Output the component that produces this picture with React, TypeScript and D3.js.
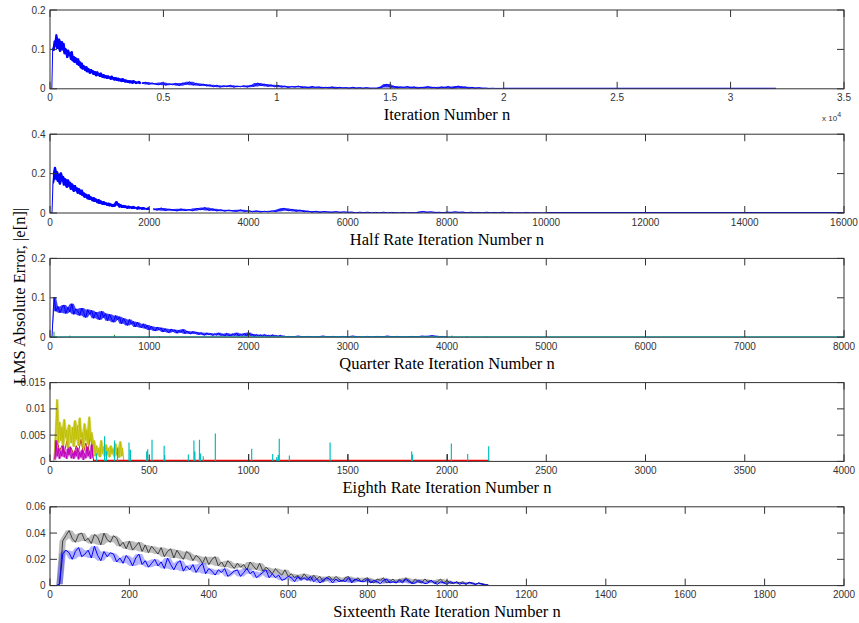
import React from 'react';
import * as d3 from 'd3';

// ---------------- DATA (errors in units of 1e-3) ----------------
// Panel 1: full rate
const fullXTicks = [0, 5000, 10000, 15000, 20000, 25000, 30000, 35000];
const fullYTicks = [0, 0.1, 0.2];
const fullStartA = 0, fullStepA = 40;
const fullErrA = [
  0, 0,
  0, 104, 96, 122, 108, 138, 101, 118, 127, 94,
  112, 121, 98, 116, 88, 103, 96, 78, 99, 84,
  92, 74, 95, 70, 83, 66, 80, 72, 61, 77,
  58, 69, 52, 66, 49, 60, 53, 45, 57, 42,
  53, 46, 38, 50, 40, 47, 35, 45, 37, 32,
  44, 34, 40, 30, 41, 33, 28, 37, 27, 35,
  30, 25, 34, 26, 31, 23, 33, 24, 29, 21,
  30, 23, 20, 28, 19, 26, 22, 17, 27, 18,
  24, 16, 23, 19, 15, 22, 14, 21, 17, 13,
  22, 15, 19, 12, 18, 14, 20, 12, 17,
];
const fullStartB = 4050, fullStepB = 150;
const fullErrB = [
  13, 17, 11, 15, 12, 10, 16, 9, 13, 10,
  14, 8, 15, 11, 18, 9, 14, 8, 12, 7,
  10, 5, 9, 4, 8, 5, 9, 4, 7, 5,
  8, 4, 9, 6, 15, 8, 12, 6, 10, 5,
  9, 4, 7, 3, 6, 4, 7, 3, 5, 2,
  6, 3, 5, 2, 4, 2, 5, 1, 4, 2,
  3, 1, 4, 1, 3, 1, 3, 1, 2, 1,
  3, 6, 12, 3, 7, 2, 5, 3, 6, 2,
  5, 1, 4, 2, 6, 2, 4, 1, 5, 2,
  6, 1, 4, 7, 2, 5, 1, 4, 1, 3,
  1, 2, 1, 1.5, 1, 1, 1,
];
const fullTailN = [19950, 32000];
const fullTailErr = [0.8, 0.8];

// Panel 2: half rate
const halfXTicks = [0, 2000, 4000, 6000, 8000, 10000, 12000, 14000, 16000];
const halfYTicks = [0, 0.2, 0.4];
const halfStartA = 0, halfStepA = 20;
const halfErrA = [
  0, 0,
  0, 150, 205, 234, 170, 212, 158, 198, 145, 205,
  162, 188, 140, 176, 150, 128, 170, 135, 158, 118,
  150, 126, 108, 142, 112, 130, 98, 126, 104, 92,
  118, 86, 104, 78, 98, 84, 70, 94, 66, 84,
  72, 60, 80, 56, 74, 62, 50, 70, 46, 64,
  52, 42, 60, 40, 55, 44, 36, 52, 34, 48,
  38, 30, 46, 32, 52, 60, 38, 50, 28, 44,
  32, 26, 41, 25, 38, 29, 22, 37, 23, 34,
  26, 20, 36, 21, 31, 24, 18, 33, 19, 29,
  22, 16, 30, 18, 26, 20, 15, 28, 17,
];
const halfStartB = 2080, halfStepB = 80;
const halfErrB = [
  22, 14, 26, 12, 20, 16, 10, 21, 12, 18,
  11, 24, 16, 28, 13, 22, 10, 17, 9, 15,
  11, 8, 16, 7, 12, 6, 11, 5, 9, 6,
  11, 7, 18, 24, 11, 19, 8, 15, 6, 10,
  4, 9, 3, 8, 5, 3, 7, 2, 6, 3,
  5, 1, 4, 2, 4, 1, 3, 1, 4, 1,
  3, 2, 1, 3, 1, 2, 1, 4, 8, 3,
  6, 2, 4, 1, 5, 2, 6, 3, 5, 1,
  4, 2, 3, 1, 4, 1, 3, 1, 4, 2,
  3, 1, 2, 1, 3, 1, 2, 1, 1, 1,
];
const halfTailN = [10000, 16000];
const halfTailErr = [0.8, 0.8];

// Panel 3: quarter rate
const quarterXTicks = [0, 1000, 2000, 3000, 4000, 5000, 6000, 7000, 8000];
const quarterYTicks = [0, 0.1, 0.2];
const quarterStartA = 0, quarterStepA = 20;
const quarterErrA = [
  0, 0, 102, 66, 78, 62, 74, 82, 60, 76,
  64, 85, 58, 72, 66, 55, 74, 62, 50, 70,
  58, 68, 48, 64, 54, 44, 66, 50, 60, 42,
  58, 46, 38, 55, 44, 52, 34, 48, 38, 30,
  45, 33, 40, 26, 38, 30, 24, 34, 22, 31,
  18, 28, 20, 16, 26, 18, 24, 13, 22, 15,
  11, 21, 14, 19, 10, 18, 12, 20, 9, 16,
  11, 8, 15, 9, 13, 6, 12, 7, 5, 11,
  6, 10, 4, 9, 5, 11, 4, 8, 3, 10,
  5, 3, 9, 4, 11, 3, 8, 4, 10, 3,
  12, 4, 8, 2, 7, 3, 6, 2, 7, 2,
  5, 1, 6, 2, 4, 1, 5, 1, 3, 1,
  2,
];
const quarterStartB = 2400, quarterStepB = 50;
const quarterErrB = [2, 1, 3, 1, 2, 1, 1, 3, 1, 2, 1, 2, 1, 3, 1, 1, 2, 1, 2, 1, 3, 1, 2, 1, 1, 2, 1, 3, 1, 4, 1, 2, 1];
const quarterGreenN = [40, 200, 650, 1100, 2000, 4050, 4200, 4400];
const quarterGreenErr = [14, 4, 6, 3, 3, 4, 3, 2];
const quarterTealN = [0, 8000];
const quarterTealErr = [0.6, 0.6];

// Panel 4: eighth rate
const eighthXTicks = [0, 500, 1000, 1500, 2000, 2500, 3000, 3500, 4000];
const eighthYTicks = [0, 0.005, 0.01, 0.015];
const eighthYellowStart = 18, eighthYellowStep = 6;
const eighthYellowErr = [0, 2.5, 6.0, 11.8, 3.5, 7.5, 4.0, 6.5, 3.0, 8.0, 4.5, 6.0, 2.5, 7.0, 5.0, 3.5, 6.5, 2.8, 7.8, 4.2, 6.8, 3.0, 8.3, 4.5, 5.5, 2.5, 7.2, 4.0, 6.0, 3.2, 8.5, 4.0, 5.5, 2.2, 4.0, 1.0, 3.0, 1.2, 2.5, 0.8, 4.0, 1.5, 2.8, 1.0, 3.2, 1.2, 2.5, 0.8, 3.0, 1.5, 2.4, 0.9, 3.4, 1.2, 2.6, 0.7, 3.8, 1.0, 2.5, 0];
const eighthMagentaStart = 24, eighthMagentaStep = 6;
const eighthMagentaErr = [0.3, 4.0, 1.0, 2.5, 0.5, 2.0, 1.0, 3.0, 0.8, 1.8, 0.5, 2.4, 1.2, 2.8, 0.6, 1.5, 0.5, 2.0, 1.0, 2.6, 0.4, 1.8, 0.8, 2.2, 0.3, 1.5, 0.6, 2.8, 1.0, 2.0, 0.5, 3.2, 0.8, 0];
const eighthRedStart = 24, eighthRedStep = 12;
const eighthRedErr = [0.5, 4.0, 2.0, 3.0, 1.5, 3.8, 2.0, 2.5, 1.2, 3.0, 1.8, 4.2, 1.5, 3.5, 2.0, 5.0, 1.0];
const eighthRedFlatN = [216, 2213];
const eighthRedFlatErr = [0.15, 0.15];
const eighthCyanN = [234, 275, 284, 325, 340, 398, 405, 487, 492, 514, 575, 578, 697, 725, 730, 753, 758, 772, 833, 1016, 1122, 1142, 1150, 1155, 1206, 1411, 1822, 1826, 2022, 2104, 2210];
const eighthCyanErr = [1.5, 4.8, 2.0, 4.0, 2.5, 3.6, 2.2, 1.9, 2.3, 4.1, 3.0, 1.2, 1.3, 4.0, 1.9, 4.1, 1.5, 1.0, 5.3, 2.4, 1.4, 0.8, 1.2, 4.3, 1.1, 3.6, 1.9, 1.3, 3.4, 1.4, 2.9];
const eighthGrayN = [1001, 1501, 2002];
const eighthGrayErr = [1.4, 1.4, 1.4];

// Panel 5: sixteenth rate
const sixteenthXTicks = [0, 200, 400, 600, 800, 1000, 1200, 1400, 1600, 1800, 2000];
const sixteenthYTicks = [0, 0.02, 0.04, 0.06];
const sixteenthStart = 0, sixteenthStep = 8;
const sixteenthBlueErr = [
  0, 0, 0, 1, 24, 27, 25, 20, 26, 29,
  22, 24, 27, 21, 30, 23, 19, 26, 22, 25,
  24, 18, 21, 17, 23, 20, 15, 21, 24, 16,
  19, 14, 17, 20, 15, 18, 13, 21, 16, 12,
  17, 19, 11, 15, 12, 16, 10, 14, 17, 9,
  13, 11, 8, 12, 10, 13, 7, 9, 11, 12,
  7, 10, 13, 9, 11, 6, 8, 10, 12, 6,
  9, 6, 8, 4, 5, 7, 6, 3, 7, 4,
  6, 4, 7, 3, 5, 2, 4, 6, 5, 2,
  5, 3, 4, 3, 6, 2, 5, 4, 3, 3,
  5, 2, 4, 3, 1.5, 4, 5, 2, 3, 2,
  4, 2, 5, 3, 1.5, 2, 4, 3, 1.5, 2,
  4, 2, 1, 3, 2, 1, 3, 2, 2.5, 1,
  2, 1, 2.5, 1.5, 0.8, 2, 1, 0.5, 0.5,
];
const sixteenthGrayErr = [
  0, 0, 0, 1, 34, 38, 42, 36, 33, 39,
  40, 34, 36, 32, 39, 37, 31, 40, 35, 33,
  38, 36, 30, 33, 28, 34, 27, 30, 33, 26,
  31, 25, 30, 27, 24, 29, 22, 26, 28, 21,
  27, 23, 20, 26, 24, 19, 23, 21, 17, 22,
  16, 20, 22, 15, 18, 14, 19, 16, 13, 17,
  14, 16, 12, 18, 15, 12, 17, 11, 14, 12,
  9, 13, 10, 8, 12, 7, 9, 6, 8, 5,
  9, 6, 4, 8, 5, 7, 3, 6, 7, 4,
  7, 5, 3, 6, 7, 3, 4, 6, 3, 5,
  6, 3, 2, 5, 4, 6, 2, 3, 5, 2,
  5, 3, 6, 4, 2, 5, 3, 2, 5, 3,
  4, 2, 3, 5, 2, 4, 2, 1.5, 3, 2,
  3, 1, 2.5, 2, 1, 2, 1.5, 0.8, 0.5,
];

const xLabels = [
  'Iteration Number n',
  'Half Rate Iteration Number n',
  'Quarter Rate Iteration Number n',
  'Eighth Rate Iteration Number n',
  'Sixteenth Rate Iteration Number n',
];
const yLabel = 'LMS Absolute Error, |e[n]|';

// ---------------- helpers ----------------
type Pt = [number, number];
const MILLI = 1e-3;
const seq = (start: number, step: number, vals: number[]): Pt[] =>
  vals.map((v, i) => [start + i * step, v * MILLI]);
const pairs = (ns: number[], vals: number[]): Pt[] => ns.map((n, i) => [n, vals[i] * MILLI]);

// band = fill the local (3-sample) min/max range of the noisy signal
type Series = { pts: Pt[]; color: string; width?: number; spikes?: boolean; band?: number };

const W = 859, H = 623;
const L = 50, R = 844;
const TOP0 = 10, PITCH = 124.2, PH = 78.8;
const tickFont = '"Liberation Sans", Arial, Helvetica, sans-serif';
const serif = '"Liberation Serif", "Times New Roman", serif';
const AX = '#333333';

function localRange(pts: Pt[]): [number, number, number][] {
  const n = pts.length;
  return pts.map((p, j) => {
    if (p[1] === 0) return [p[0], 0, 0];
    const vals = [p[1]];
    const a = pts[Math.max(0, j - 1)][1];
    const c = pts[Math.min(n - 1, j + 1)][1];
    if (a > 0) vals.push(a);
    if (c > 0) vals.push(c);
    return [p[0], Math.min(...vals), Math.max(...vals)];
  });
}

function Panel(props: {
  idx: number; xMax: number; yMax: number; xTicks: number[]; yTicks: number[];
  xFmt: (v: number) => string; xlabel: string; series: Series[];
}) {
  const { idx, xMax, yMax, xTicks, yTicks, xFmt, xlabel, series } = props;
  const top = TOP0 + idx * PITCH;
  const bottom = top + PH;
  const x = d3.scaleLinear().domain([0, xMax]).range([L, R]);
  const y = d3.scaleLinear().domain([0, yMax]).range([bottom, top]);
  const line = d3.line<Pt>().x(d => x(d[0])).y(d => y(d[1]));
  const area = d3.area<[number, number, number]>()
    .x(d => x(d[0])).y0(d => y(d[1])).y1(d => y(d[2]));
  const clipId = `clip-${idx}`;
  const TL = 7;
  return (
    <g>
      <defs>
        <clipPath id={clipId}>
          <rect x={L} y={top} width={R - L} height={PH} />
        </clipPath>
      </defs>
      <g clipPath={`url(#${clipId})`}>
        {series.map((s, i) => {
          if (s.spikes) {
            const d = s.pts.map(p => line([[p[0], 0], p]) || '').join('');
            return <path key={i} d={d} fill="none" stroke={s.color} strokeWidth={s.width ?? 1} />;
          }
          return (
            <g key={i}>
              {s.band ? <path d={area(localRange(s.pts)) || ''} fill={s.color} fillOpacity={s.band} stroke="none" /> : null}
              <path d={line(s.pts) || ''} fill="none" stroke={s.color} strokeWidth={s.width ?? 1}
                strokeLinejoin="round" />
            </g>
          );
        })}
      </g>
      <rect x={L} y={top} width={R - L} height={PH} fill="none" stroke={AX} strokeWidth={1} />
      {xTicks.map((t, i) => (
        <g key={'x' + i}>
          <line x1={x(t)} x2={x(t)} y1={bottom} y2={bottom - TL} stroke={AX} />
          <line x1={x(t)} x2={x(t)} y1={top} y2={top + TL} stroke={AX} />
          <text x={x(t)} y={bottom + 12.5} fontFamily={tickFont} fontSize={10} fill="#333"
            textAnchor="middle">{xFmt(t)}</text>
        </g>
      ))}
      {yTicks.map((t, i) => (
        <g key={'y' + i}>
          <line x1={L} x2={L + TL} y1={y(t)} y2={y(t)} stroke={AX} />
          <line x1={R} x2={R - TL} y1={y(t)} y2={y(t)} stroke={AX} />
          <text x={L - 4.5} y={y(t) + 3.5} fontFamily={tickFont} fontSize={10} fill="#333"
            textAnchor="end">{String(t)}</text>
        </g>
      ))}
      <text x={(L + R) / 2} y={bottom + 31.5} fontFamily={serif} fontSize={16.5} fill="#000"
        textAnchor="middle">{xlabel}</text>
    </g>
  );
}

export default function App() {
  const blue = '#0000ff';
  const panels = [
    {
      xMax: 35000, yMax: 0.2, xTicks: fullXTicks, yTicks: fullYTicks,
      xFmt: (v: number) => String(v / 10000),
      series: [
        { pts: seq(fullStartA, fullStepA, fullErrA), color: blue, band: 1 },
        { pts: seq(fullStartB, fullStepB, fullErrB), color: blue, band: 0.8 },
        { pts: pairs(fullTailN, fullTailErr), color: blue, width: 1.5 },
      ] as Series[],
    },
    {
      xMax: 16000, yMax: 0.4, xTicks: halfXTicks, yTicks: halfYTicks,
      xFmt: (v: number) => String(v),
      series: [
        { pts: seq(halfStartA, halfStepA, halfErrA), color: blue, band: 1 },
        { pts: seq(halfStartB, halfStepB, halfErrB), color: blue, band: 0.8 },
        { pts: pairs(halfTailN, halfTailErr), color: blue, width: 1.5 },
      ] as Series[],
    },
    {
      xMax: 8000, yMax: 0.2, xTicks: quarterXTicks, yTicks: quarterYTicks,
      xFmt: (v: number) => String(v),
      series: [
        { pts: seq(quarterStartA, quarterStepA, quarterErrA), color: blue, band: 0.75 },
        { pts: seq(quarterStartB, quarterStepB, quarterErrB), color: blue, band: 0.6 },
        { pts: pairs(quarterGreenN, quarterGreenErr), color: '#109f10', spikes: true },
        { pts: pairs(quarterTealN, quarterTealErr), color: '#00b0b0', width: 1.5 },
      ] as Series[],
    },
    {
      xMax: 4000, yMax: 0.015, xTicks: eighthXTicks, yTicks: eighthYTicks,
      xFmt: (v: number) => String(v),
      series: [
        { pts: seq(eighthRedStart, eighthRedStep, eighthRedErr), color: '#c03020' },
        { pts: seq(eighthYellowStart, eighthYellowStep, eighthYellowErr), color: '#bfbf00', band: 0.7 },
        { pts: seq(eighthMagentaStart, eighthMagentaStep, eighthMagentaErr), color: '#bf00bf', band: 0.6 },
        { pts: pairs(eighthRedFlatN, eighthRedFlatErr), color: '#ff0000', width: 1.5 },
        { pts: pairs(eighthGrayN, eighthGrayErr), color: '#404040', spikes: true, width: 1.2 },
        { pts: pairs(eighthCyanN, eighthCyanErr), color: '#00bfbf', spikes: true, width: 1.2 },
      ] as Series[],
    },
    {
      xMax: 2000, yMax: 0.06, xTicks: sixteenthXTicks, yTicks: sixteenthYTicks,
      xFmt: (v: number) => String(v),
      series: [
        { pts: seq(sixteenthStart, sixteenthStep, sixteenthGrayErr), color: '#404040', band: 0.35 },
        { pts: seq(sixteenthStart, sixteenthStep, sixteenthBlueErr), color: blue, band: 0.3 },
      ] as Series[],
    },
  ];
  return (
    <svg width={W} height={H} style={{ position: 'absolute', left: 0, top: 0, background: '#fff' }}>
      <rect x={0} y={0} width={W} height={H} fill="#fff" />
      {panels.map((p, i) => (
        <Panel key={i} idx={i} xMax={p.xMax} yMax={p.yMax} xTicks={p.xTicks} yTicks={p.yTicks}
          xFmt={p.xFmt} xlabel={xLabels[i]} series={p.series} />
      ))}
      <text x={822} y={121} fontFamily={tickFont} fontSize={8} fill="#333">
        x 10<tspan dy={-4} fontSize={7}>4</tspan>
      </text>
      <text transform={`translate(25,${296}) rotate(-90)`} fontFamily={serif} fontSize={16.5}
        fill="#000" textAnchor="middle">{yLabel}</text>
    </svg>
  );
}
